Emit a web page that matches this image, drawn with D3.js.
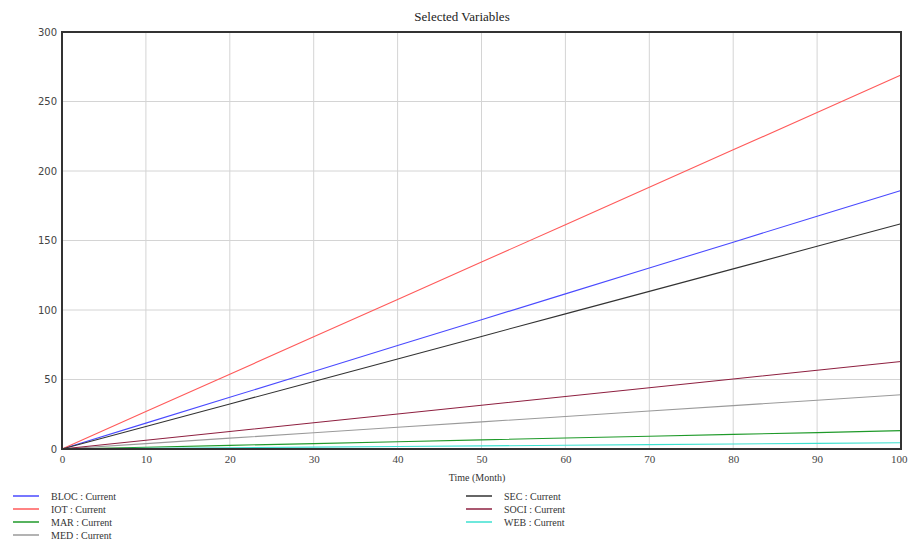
<!DOCTYPE html>
<html lang="en">
	<head>
		<meta charset="utf-8">
		<title>Selected Variables</title>
		<script src="https://d3js.org/d3.v7.min.js"></script>
		<style type="text/css">
			body { margin: 0; background: #fff; }
		</style>
	</head>
	<body>
		<script type="text/javascript">
			//Data at every 10 months
			var months = [0, 10, 20, 30, 40, 50, 60, 70, 80, 90, 100];
			var bloc = [0, 18.6, 37.2, 55.8, 74.4, 93, 111.6, 130.2, 148.8, 167.4, 186];
			var iot  = [0, 26.9, 53.8, 80.7, 107.6, 134.5, 161.4, 188.3, 215.2, 242.1, 269];
			var mar  = [0, 1.3, 2.6, 3.9, 5.2, 6.6, 7.9, 9.2, 10.5, 11.8, 13.2];
			var med  = [0, 3.9, 7.8, 11.7, 15.6, 19.5, 23.4, 27.3, 31.2, 35.1, 39];
			var sec  = [0, 16.2, 32.4, 48.6, 64.8, 81, 97.2, 113.4, 129.6, 145.8, 162];
			var soci = [0, 6.3, 12.6, 18.9, 25.2, 31.5, 37.8, 44.1, 50.4, 56.7, 63];
			var web  = [0, 0.45, 0.9, 1.35, 1.8, 2.25, 2.7, 3.15, 3.6, 4.05, 4.5];
			var seriesNames = ["BLOC", "IOT", "MAR", "MED", "SEC", "SOCI", "WEB"];
			var seriesValues = [bloc, iot, mar, med, sec, soci, web];
			var seriesColors = ["#4a4aff", "#ff5a5a", "#1f9a2a", "#9a9a9a", "#333333", "#8e2040", "#3ee0d0"];
			var xTicks = [0, 10, 20, 30, 40, 50, 60, 70, 80, 90, 100];
			var yTicks = [0, 50, 100, 150, 200, 250, 300];

			var width = 908;
			var height = 542;
			var margin = { top: 32, left: 62, right: 7, bottom: 93 };
			var w = width - margin.left - margin.right;
			var h = height - margin.top - margin.bottom;

			var svg = d3.select("body")
						.append("svg")
							.attr("width", width)
							.attr("height", height);

			var g = svg.append("g")
				.attr("transform", "translate(" + margin.left + "," + margin.top + ")");

			var x = d3.scaleLinear().domain([0, 100]).range([0, w]);
			var y = d3.scaleLinear().domain([0, 300]).range([h, 0]);

			//Grid
			g.selectAll(".vgrid")
				.data(xTicks)
				.enter()
				.append("line")
				.attr("x1", function(d) { return x(d); })
				.attr("x2", function(d) { return x(d); })
				.attr("y1", 0)
				.attr("y2", h)
				.attr("stroke", "#d4d4d4")
				.attr("stroke-width", 1);

			g.selectAll(".hgrid")
				.data(yTicks)
				.enter()
				.append("line")
				.attr("x1", 0)
				.attr("x2", w)
				.attr("y1", function(d) { return y(d); })
				.attr("y2", function(d) { return y(d); })
				.attr("stroke", "#d4d4d4")
				.attr("stroke-width", 1);

			//Axes (labels only)
			var leftAxis = d3.axisLeft(y).tickValues(yTicks).tickSize(0).tickPadding(5);
			var bottomAxis = d3.axisBottom(x).tickValues(xTicks).tickSize(0).tickPadding(6);

			var ya = g.append("g").call(leftAxis);
			ya.select(".domain").remove();
			ya.selectAll("text")
				.attr("font-family", "DejaVu Sans, sans-serif")
				.attr("font-size", "10px")
				.attr("fill", "#444");

			var xa = g.append("g")
				.attr("transform", "translate(0," + h + ")")
				.call(bottomAxis);
			xa.select(".domain").remove();
			xa.selectAll("text")
				.attr("font-family", "Liberation Serif, serif")
				.attr("font-size", "11px")
				.attr("fill", "#444");
			// last label sits against the window edge
			xa.selectAll("text")
				.filter(function(d) { return d === 100; })
				.attr("text-anchor", "end")
				.attr("dx", "6");

			//Lines
			var line = d3.line()
				.x(function(d, i) { return x(months[i]); })
				.y(function(d) { return y(d); });

			g.selectAll(".series")
				.data(seriesValues)
				.enter()
				.append("path")
				.attr("d", line)
				.attr("fill", "none")
				.attr("stroke", function(d, i) { return seriesColors[i]; })
				.attr("stroke-width", 1.1);

			//Frame
			g.append("rect")
				.attr("x", 0)
				.attr("y", 0)
				.attr("width", w)
				.attr("height", h)
				.attr("fill", "none")
				.attr("stroke", "#333")
				.attr("stroke-width", 2);

			//Title and axis label
			svg.append("text")
				.attr("x", 462)
				.attr("y", 21)
				.attr("text-anchor", "middle")
				.attr("font-family", "Liberation Serif, serif")
				.attr("font-size", "13px")
				.attr("fill", "#222")
				.text("Selected Variables");

			svg.append("text")
				.attr("x", 477)
				.attr("y", 481)
				.attr("text-anchor", "middle")
				.attr("font-family", "Liberation Serif, serif")
				.attr("font-size", "10px")
				.attr("fill", "#333")
				.text("Time (Month)");

			//Legend
			var legendPos = [
				{ x: 13, y: 496 }, { x: 13, y: 509 }, { x: 13, y: 522 }, { x: 13, y: 535 },
				{ x: 466, y: 496 }, { x: 466, y: 509 }, { x: 466, y: 522 }
			];

			var legend = svg.selectAll(".legend")
				.data(seriesNames)
				.enter()
				.append("g")
				.attr("transform", function(d, i) {
					return "translate(" + legendPos[i].x + "," + legendPos[i].y + ")";
				});

			legend.append("line")
				.attr("x1", 0)
				.attr("x2", 26)
				.attr("stroke", function(d, i) { return seriesColors[i]; })
				.attr("stroke-width", 1.5);

			legend.append("text")
				.attr("x", 38)
				.attr("y", 3.5)
				.attr("font-family", "Liberation Serif, serif")
				.attr("font-size", "10px")
				.attr("fill", "#333")
				.text(function(d) { return d + " : Current"; });
		</script>
	</body>
</html>
